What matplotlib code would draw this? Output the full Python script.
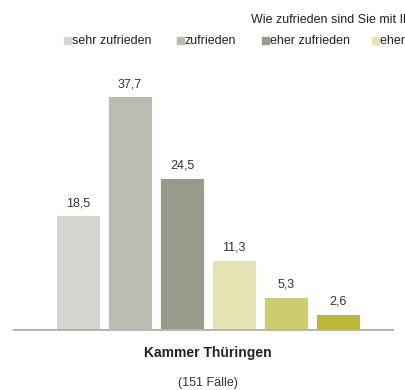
import matplotlib.pyplot as plt
from matplotlib.patches import Rectangle

plt.rcParams['font.family'] = ['Liberation Sans', 'DejaVu Sans']

kategorien = ['sehr zufrieden', 'zufrieden', 'eher zufrieden',
              'eher unzufrieden', 'unzufrieden', 'sehr unzufrieden']
anteile = [18.5, 37.7, 24.5, 11.3, 5.3, 2.6]
farben = ['#d5d5d0', '#bcbbb0', '#9a9a8a', '#e6e4b2', '#cfcc70', '#bcb737']
gruppe = 'Kammer Thüringen'
faelle = '(151 Fälle)'
frage = 'Wie zufrieden sind Sie mit Ihrer'

W, H = 406, 390
fig = plt.figure(figsize=(W / 100, H / 100), dpi=100)

# Achse in Pixelkoordinaten: Grundlinie von x=14 bis x=393, y=330
x0, x1, yb = 14, 393, 330
ax = fig.add_axes([x0 / W, (H - yb) / H, (x1 - x0) / W, (yb - 82) / H])
pos = list(range(len(anteile)))
ax.bar(pos, anteile, width=44 / 52, color=farben, edgecolor='white', linewidth=0.6)
for p, v in zip(pos, anteile):
    ax.text(p, v + 1.0, f'{v:.1f}'.replace('.', ','), ha='center', va='bottom',
            fontsize=9, color='#333333')
ax.set_xlim((x0 - 78) / 52, (x1 - 78) / 52)
ax.set_ylim(0, 40)
for s in ['top', 'right', 'left']:
    ax.spines[s].set_visible(False)
ax.spines['bottom'].set_color('#b4b4b4')
ax.spines['bottom'].set_linewidth(1.4)
ax.set_xticks([])
ax.set_yticks([])

# Überschrift und Legende
fig.text(251 / W, 1 - 20 / H, frage, fontsize=9, color='#222222', va='center')
leg_x = [64, 177, 262, 372]
for lx, name, c in zip(leg_x, kategorien, farben):
    fig.patches.append(Rectangle((lx / W, 1 - 44 / H), 7 / W, 7 / H,
                                 transform=fig.transFigure, color=c))
    fig.text((lx + 8) / W, 1 - 41 / H, name, fontsize=9, color='#222222', va='center')

fig.text(208 / W, 1 - 353 / H, gruppe, fontsize=10, fontweight='bold',
         ha='center', va='center', color='#222222')
fig.text(208 / W, 1 - 383 / H, faelle, fontsize=9, ha='center', va='center',
         color='#333333')

fig.savefig('out.png', dpi=100)
